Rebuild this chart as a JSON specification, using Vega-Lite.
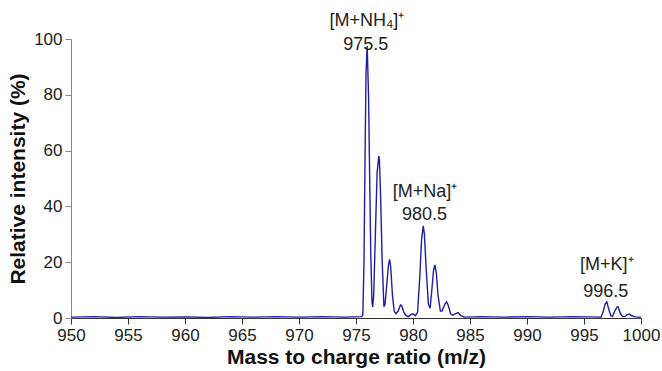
{
  "$schema": "https://vega.github.io/schema/vega-lite/v6.json",
  "autosize": {"type": "none"},
  "width": 570,
  "height": 279,
  "padding": {"left": 71, "top": 39, "right": 21, "bottom": 53},
  "background": "white",
  "config": {
    "view": {"stroke": null},
    "font": "Liberation Sans",
    "axis": {"grid": false, "labelFont": "Liberation Sans", "labelFontSize": 17, "labelColor": "#222", "labelFlush": false, "titleFont": "Liberation Sans", "titleFontSize": 21, "titleFontWeight": "bold", "titleColor": "#111", "tickSize": 6}
  },
  "datasets": {
    "spectrum": [
      {"mz": 950, "int": 0.3}, {"mz": 952, "int": 0.5}, {"mz": 954, "int": 0.2}, {"mz": 956, "int": 0.5}, {"mz": 958, "int": 0.3},
      {"mz": 960, "int": 0.4}, {"mz": 962, "int": 0.2}, {"mz": 964, "int": 0.5}, {"mz": 966, "int": 0.3}, {"mz": 968, "int": 0.5},
      {"mz": 970, "int": 0.3}, {"mz": 972, "int": 0.5}, {"mz": 974, "int": 0.3}, {"mz": 975.5, "int": 0.5},
      {"mz": 975.6, "int": 1}, {"mz": 975.7, "int": 20}, {"mz": 975.8, "int": 60}, {"mz": 975.88, "int": 88}, {"mz": 975.98, "int": 97.5},
      {"mz": 976.1, "int": 80}, {"mz": 976.2, "int": 50}, {"mz": 976.3, "int": 22}, {"mz": 976.4, "int": 6}, {"mz": 976.46, "int": 4},
      {"mz": 976.55, "int": 8}, {"mz": 976.7, "int": 30}, {"mz": 976.85, "int": 52}, {"mz": 977.0, "int": 58}, {"mz": 977.05, "int": 57},
      {"mz": 977.15, "int": 45}, {"mz": 977.3, "int": 20}, {"mz": 977.45, "int": 4}, {"mz": 977.55, "int": 5}, {"mz": 977.7, "int": 12},
      {"mz": 977.85, "int": 19}, {"mz": 977.95, "int": 21}, {"mz": 978.05, "int": 18}, {"mz": 978.2, "int": 8}, {"mz": 978.35, "int": 2.5},
      {"mz": 978.5, "int": 1.5}, {"mz": 978.7, "int": 2.5}, {"mz": 978.9, "int": 4.7}, {"mz": 979.0, "int": 4.5}, {"mz": 979.2, "int": 2},
      {"mz": 979.4, "int": 0.8}, {"mz": 979.6, "int": 0.5}, {"mz": 979.8, "int": 1.2}, {"mz": 980.0, "int": 1.5}, {"mz": 980.2, "int": 0.8},
      {"mz": 980.4, "int": 2}, {"mz": 980.6, "int": 15}, {"mz": 980.75, "int": 28}, {"mz": 980.9, "int": 33}, {"mz": 981.0, "int": 30},
      {"mz": 981.15, "int": 18}, {"mz": 981.35, "int": 5}, {"mz": 981.5, "int": 3.5}, {"mz": 981.65, "int": 10}, {"mz": 981.8, "int": 17},
      {"mz": 981.92, "int": 19}, {"mz": 982.05, "int": 16}, {"mz": 982.2, "int": 8}, {"mz": 982.4, "int": 2.5}, {"mz": 982.55, "int": 2.5},
      {"mz": 982.8, "int": 5}, {"mz": 982.95, "int": 5.8}, {"mz": 983.1, "int": 4.5}, {"mz": 983.3, "int": 1.5}, {"mz": 983.45, "int": 1},
      {"mz": 983.7, "int": 1.5}, {"mz": 983.95, "int": 1.9}, {"mz": 984.2, "int": 0.8}, {"mz": 984.5, "int": 0.3},
      {"mz": 986, "int": 0.5}, {"mz": 988, "int": 0.3}, {"mz": 990, "int": 0.5}, {"mz": 992, "int": 0.3}, {"mz": 994, "int": 0.5}, {"mz": 996.5, "int": 0.3},
      {"mz": 996.7, "int": 2.5}, {"mz": 996.85, "int": 5}, {"mz": 997.0, "int": 5.8}, {"mz": 997.15, "int": 3.5}, {"mz": 997.35, "int": 0.8},
      {"mz": 997.5, "int": 0.6}, {"mz": 997.7, "int": 2.5}, {"mz": 997.9, "int": 4}, {"mz": 998.0, "int": 4}, {"mz": 998.2, "int": 1.5},
      {"mz": 998.4, "int": 0.5}, {"mz": 998.6, "int": 0.6}, {"mz": 998.8, "int": 1.2}, {"mz": 999.0, "int": 1.4}, {"mz": 999.2, "int": 0.8},
      {"mz": 999.5, "int": 0.4}, {"mz": 999.8, "int": 0.3}, {"mz": 1000, "int": 0.3}
    ],
    "labels": [
      {"mz": 975.95, "int": 106.5, "text": "[M+NH₄]⁺"},
      {"mz": 975.85, "int": 97.8, "text": "975.5"},
      {"mz": 981.05, "int": 45.2, "text": "[M+Na]⁺"},
      {"mz": 981.0, "int": 36.9, "text": "980.5"},
      {"mz": 997.0, "int": 19.0, "text": "[M+K]⁺"},
      {"mz": 996.9, "int": 9.4, "text": "996.5"}
    ]
  },
  "layer": [
    {
      "data": {"name": "spectrum"},
      "mark": {"type": "line", "color": "#1f1fa5", "strokeWidth": 1.4, "clip": true},
      "encoding": {
        "x": {"field": "mz", "type": "quantitative", "scale": {"domain": [950, 1000], "nice": false},
          "axis": {"values": [950, 955, 960, 965, 970, 975, 980, 985, 990, 995, 1000], "format": "d", "title": "Mass to charge ratio (m/z)", "domainColor": "#333", "tickColor": "#333", "labelPadding": 3, "titlePadding": 3}},
        "y": {"field": "int", "type": "quantitative", "scale": {"domain": [0, 100], "nice": false},
          "axis": {"values": [0, 20, 40, 60, 80, 100], "title": "Relative intensity (%)", "domainColor": "#888", "tickColor": "#888", "labelPadding": 3, "titlePadding": 5}}
      }
    },
    {
      "data": {"name": "labels"},
      "mark": {"type": "text", "font": "Liberation Sans", "fontSize": 18, "color": "#222", "align": "center", "baseline": "middle"},
      "encoding": {
        "x": {"field": "mz", "type": "quantitative"},
        "y": {"field": "int", "type": "quantitative"},
        "text": {"field": "text"}
      }
    }
  ]
}
